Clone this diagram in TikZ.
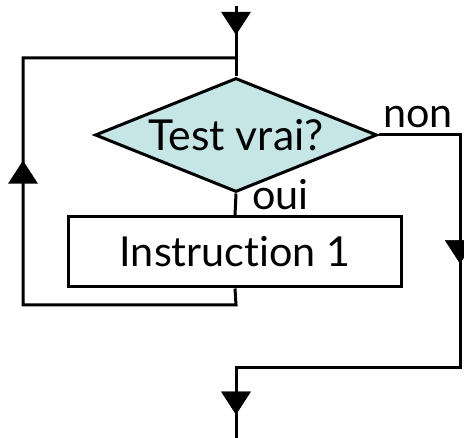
\documentclass[tikz,border=0pt]{standalone}
\usepackage{fontspec}
\setmainfont{Lato}[Ligatures={NoCommon,NoRare,NoContextual}]
\usetikzlibrary{shapes.geometric,arrows.meta,decorations.markings}

\definecolor{testfill}{RGB}{198,229,229}

\tikzset{
  flow/.style={line width=2.25pt, line join=miter},
  midtip/.style={postaction={decorate}, decoration={markings,
      mark=at position #1 with {\arrow{Triangle[length=17.25pt,width=21.75pt]}}}},
  testbox/.style={shape=diamond, draw, flow, fill=testfill, inner sep=0pt,
      minimum width=282*0.75pt, minimum height=114*0.75pt, aspect=2.47},
  stepbox/.style={shape=rectangle, draw, flow, inner sep=0pt,
      minimum width=333*0.75pt, minimum height=70*0.75pt},
  lbl/.style={inner sep=0pt}
}

\begin{document}
\begin{tikzpicture}[x=0.75pt, y=-0.75pt, font=\fontsize{31}{37}\selectfont]
  \useasboundingbox (0,0) rectangle (464,438);
  \clip (0,0) rectangle (464,438);

  % entry point and the junction where the loop comes back
  \coordinate (entry) at (236,6);
  \coordinate (join)  at (236,58);

  % decision and loop body
  \node[testbox] (test) at (236,135) {\fontsize{32}{38}\selectfont Test vrai?};
  \node[stepbox] (body) at (235,252) {Instruction 1};

  % corners of the loop back and of the exit
  \coordinate (loopA) at (236,305);
  \coordinate (loopB) at (23,305);
  \coordinate (loopC) at (23,58);
  \coordinate (exitA) at (460,135);
  \coordinate (exitB) at (460,367);
  \coordinate (exitC) at (236,367);
  \coordinate (exit)  at (236,446);

  % incoming flow
  \draw[flow, midtip=21.75pt] (entry) -- (join) -- (test.north);

  % "oui" branch into the body
  \draw[flow] (test.south) -- (body.north);

  % loop back to the test
  \draw[flow, midtip=280.5pt] (body.south) -- (loopA) -- (loopB)
      -- (loopC) -- (join);

  % "non" branch leaving the loop
  \draw[flow, midtip/.list={157.5pt,438.75pt}]
      (test.east) -- (exitA) -- (exitB) -- (exitC) -- (exit);

  % branch labels
  \node[lbl, anchor=base west] (non) at (383,128) {non};
  \node[lbl, anchor=base west] (oui) at (252,210) {oui};
\end{tikzpicture}
\end{document}
